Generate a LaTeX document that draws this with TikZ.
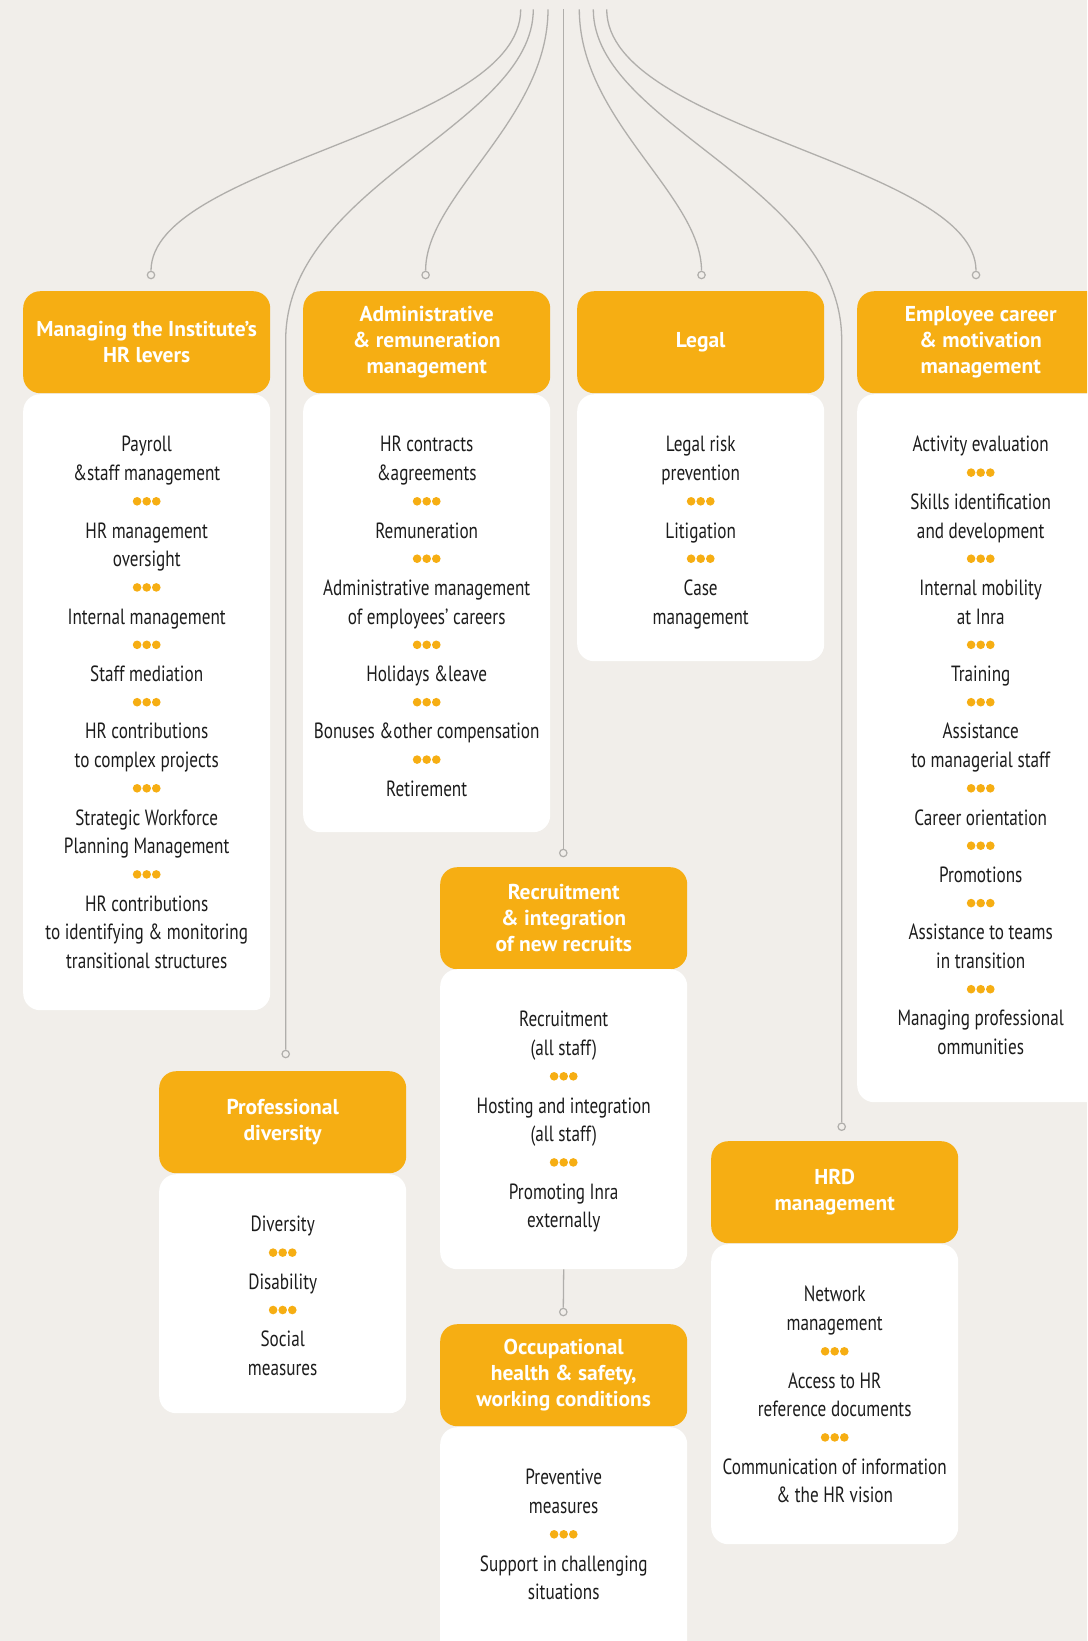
\documentclass[tikz,border=0pt]{standalone}
\usepackage{fontspec}
\newfontfamily\bodyf[FakeStretch=0.78]{PT Sans}
\newfontfamily\hdrf{PT Sans}
\definecolor{bg}{RGB}{241,238,234}
\definecolor{org}{RGB}{246,174,19}
\definecolor{lnc}{RGB}{176,174,171}
\definecolor{txt}{RGB}{28,28,28}
\newcommand\ddd{\tikz[baseline=-8pt]{\foreach \i in {0,1,2}{\fill[org] (\i*9.6pt,0pt) circle[radius=4.3pt];}}}
\newcommand\dsep{\\\ddd\\}
\newcommand\fst{\rule{0pt}{20pt}}
\tikzset{
  hdr/.style={rectangle, rounded corners=17pt, fill=org, minimum width=247pt, minimum height=102pt,
    anchor=north west, inner sep=0pt, text=white, align=center,
    font=\hdrf\bfseries\fontsize{21.5pt}{26.2pt}\selectfont},
  bodybox/.style={rectangle, rounded corners=17pt, fill=white, minimum width=247pt, inner sep=0pt, anchor=north west},
  bodytxt/.style={anchor=north, inner sep=0pt, align=center, text=txt,
    font=\bodyf\fontsize{22pt}{28.7pt}\selectfont},
  conn/.style={draw=lnc, line width=1.3pt},
  circ/.style={circle, draw=lnc, fill=bg, line width=1.2pt, minimum size=7.4pt, inner sep=0pt}
}
\begin{document}
\begin{tikzpicture}[x=1pt,y=-1pt]
\useasboundingbox (0,0) rectangle (1087,1641);
\clip (0,0) rectangle (1087,1641);
\fill[bg] (0,0) rectangle (1087,1641);

% start points
\coordinate (s1) at (520.7,9.3);
\coordinate (s2) at (533.3,9.3);
\coordinate (s3) at (548,9.3);
\coordinate (s4) at (563.3,9.3);
\coordinate (s5) at (579.3,9.3);
\coordinate (s6) at (593.3,9.3);
\coordinate (s7) at (606.7,9.3);

% circles
\node[circ] (c1) at (151,275) {};
\node[circ] (c2) at (285.7,1054) {};
\node[circ] (c3) at (425.6,275) {};
\node[circ] (c4) at (563.3,853) {};
\node[circ] (c5) at (701.5,275) {};
\node[circ] (c6) at (841.7,1126.7) {};
\node[circ] (c7) at (976,275) {};
\node[circ] (c8) at (563.3,1312) {};

% headers
\node[hdr] (h1) at (23,291) {Managing the Institute’s\\HR levers};
\node[hdr] (h2) at (303,291) {Administrative\\\& remuneration\\management};
\node[hdr] (h3) at (577,291) {Legal};
\node[hdr] (h4) at (857,291) {Employee career\\\& motivation\\management};
\node[hdr] (h5) at (440,867) {Recruitment\\\& integration\\of new recruits};
\node[hdr] (h6) at (159,1071) {Professional\\diversity};
\node[hdr] (h7) at (711,1141) {HRD\\management};
\node[hdr] (h8) at (440,1324) {Occupational\\health \& safety,\\working conditions};

% bodies
\node[bodybox, minimum height=616pt] (b1) at (23,394) {};
\node[bodybox, minimum height=438pt] (b2) at (303,394) {};
\node[bodybox, minimum height=267pt] (b3) at (577,394) {};
\node[bodybox, minimum height=708pt] (b4) at (857,394) {};
\node[bodybox, minimum height=300pt] (b5) at (440,969) {};
\node[bodybox, minimum height=239pt] (b6) at (159,1174) {};
\node[bodybox, minimum height=300pt] (b7) at (711,1244) {};
\node[bodybox, minimum height=300pt] (b8) at (440,1427) {};

% connectors
\draw[conn] (s1) .. controls (520.7,130) and (151,164) .. (c1.north);
\draw[conn] (s2) .. controls (533.3,125) and (285.7,185) .. (285.7,340) -- (c2.north);
\draw[conn] (s3) .. controls (548,120) and (425.6,195) .. (c3.north);
\draw[conn] (s4) -- (c4.north);
\draw[conn] (s5) .. controls (579.3,120) and (701.5,195) .. (c5.north);
\draw[conn] (s6) .. controls (593.3,125) and (841.7,185) .. (841.7,340) -- (c6.north);
\draw[conn] (s7) .. controls (606.7,130) and (976,164) .. (c7.north);
\draw[conn] (b5.south) -- (c8.north);

% body texts
\node[bodytxt] (t1) at ([yshift=-37.7pt]b1.north) {\fst Payroll\\\&staff management\dsep HR management\\oversight\dsep Internal management\dsep Staff mediation\dsep HR contributions\\to complex projects\dsep Strategic Workforce\\Planning Management\dsep HR contributions\\to identifying \& monitoring\\transitional structures};
\node[bodytxt] (t2) at ([yshift=-37.7pt]b2.north) {\fst HR contracts\\\&agreements\dsep Remuneration\dsep Administrative management\\of employees’ careers\dsep Holidays \&leave\dsep Bonuses \&other compensation\dsep Retirement};
\node[bodytxt] (t3) at ([yshift=-37.7pt]b3.north) {\fst Legal risk\\prevention\dsep Litigation\dsep Case\\management};
\node[bodytxt] (t4) at ([yshift=-37.7pt]b4.north) {\fst Activity evaluation\dsep Skills identification\\and development\dsep Internal mobility\\at Inra\dsep Training\dsep Assistance\\to managerial staff\dsep Career orientation\dsep Promotions\dsep Assistance to teams\\in transition\dsep Managing professional\\ommunities};
\node[bodytxt] (t5) at ([yshift=-37.7pt]b5.north) {\fst Recruitment\\(all staff)\dsep Hosting and integration\\(all staff)\dsep Promoting Inra\\externally};
\node[bodytxt] (t6) at ([yshift=-37.7pt]b6.north) {\fst Diversity\dsep Disability\dsep Social\\measures};
\node[bodytxt] (t7) at ([yshift=-37.7pt]b7.north) {\fst Network\\management\dsep Access to HR\\reference documents\dsep Communication of information\\\& the HR vision};
\node[bodytxt] (t8) at ([yshift=-37.7pt]b8.north) {\fst Preventive\\measures\dsep Support in challenging\\situations};
\end{tikzpicture}
\end{document}
